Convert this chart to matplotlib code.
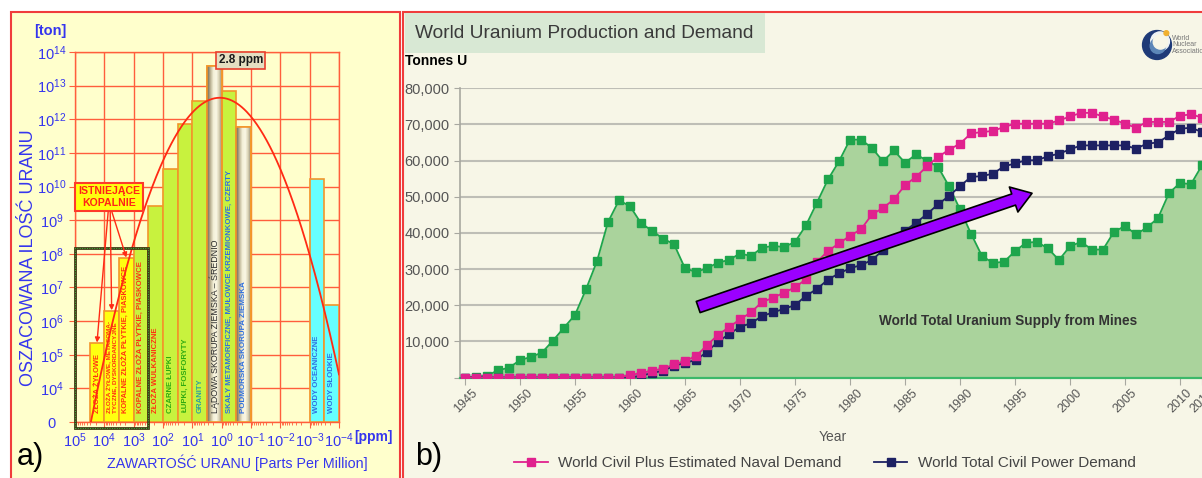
import numpy as np
import matplotlib
matplotlib.use('Agg')
import matplotlib.pyplot as plt
from matplotlib.patches import Rectangle, FancyArrowPatch, Circle, ArrowStyle
from matplotlib.colors import LinearSegmentedColormap
from matplotlib.lines import Line2D
from matplotlib.ticker import FixedLocator, LogLocator, NullFormatter
from matplotlib.transforms import ScaledTranslation

plt.rcParams['font.family'] = ['Liberation Sans', 'DejaVu Sans']
plt.rcParams['mathtext.fontset'] = 'custom'
plt.rcParams['mathtext.rm'] = 'Liberation Sans'
plt.rcParams['mathtext.it'] = 'Liberation Sans:italic'
plt.rcParams['mathtext.bf'] = 'Liberation Sans:bold'

# ---------------- panel a data ----------------
deposit_labels = [
    'ZŁOŻA ŻYŁOWE',
    'ZŁOŻA ŻYŁOWE, METASOMA-\nTYCZNE, DYSKORDANCYJNE',
    'KOPALNE ZŁOŻA PŁYTKIE, PIASKOWCE',
    'KOPALNE ZŁOŻA PŁYTKIE, PIASKOWCE',
    'ZŁOŻA WULKANICZNE',
    'CZARNE ŁUPKI',
    'ŁUPKI, FOSFORYTY',
    'GRANITY',
    'LĄDOWA SKORUPA ZIEMSKA – ŚREDNIO',
    'SKAŁY METAMORFICZNE, MUŁOWCE KRZEMIONKOWE, CZERTY',
    'PODMORSKA SKORUPA ZIEMSKA',
    'WODY OCEANICZNE',
    'WODY SŁODKIE',
]
conc_hi_ppm = [3.16e4, 1e4, 3.16e3, 1e3, 316, 100, 31.6, 10, 3.16, 1, 0.316, 1e-3, 3.16e-4]
uranium_tonnes = [2.2e5, 2.0e6, 7.4e7, 1.45e8, 2.7e9, 3.3e10, 7.4e11, 3.4e12, 3.9e13,
                  6.8e12, 5.9e11, 1.7e10, 3.1e6]
curve_ppm = [2.9e4, 1e3, 10, 1, 1e-2, 1e-4]
curve_tonnes = [1e3, 2.1e8, 1.5e12, 4.4e12, 3.6e10, 2.5e4]
y_exponents = [3, 4, 5, 6, 7, 8, 9, 10, 11, 12, 13, 14]
x_exponents = [5, 4, 3, 2, 1, 0, -1, -2, -3, -4]

# ---------------- panel b data ----------------
years = list(range(1945, 2013))
mine_supply = [0, 200, 500, 2000, 2700, 4800, 5700, 6900, 10200, 13800, 17300, 24400, 32200,
               43000, 49000, 47400, 42700, 40600, 38400, 36900, 30200, 29200, 30200, 31800,
               32500, 34300, 33600, 35900, 36400, 36100, 37500, 42100, 48400, 54800, 59800,
               65800, 65800, 63500, 59800, 62800, 59400, 61700, 60000, 58300, 52900, 46500,
               39800, 33600, 31700, 32000, 34900, 37300, 37500, 35700, 32500, 36300, 37500,
               35400, 35400, 40300, 41900, 39600, 41500, 44100, 51000, 53800, 53500, 58700]
naval_demand = [0] * 15 + [700, 1200, 1900, 2400, 3600, 4600, 5900, 8900, 11800, 13900, 16100,
               18000, 20900, 22000, 23500, 24900, 27200, 32000, 35000, 37100, 39200, 41000,
               45100, 46900, 49300, 53200, 55500, 58400, 61000, 63000, 64700, 67500, 67900,
               68200, 69300, 70200, 70200, 70200, 70200, 71100, 72200, 73200, 73200, 72200,
               71300, 70200, 69100, 70700, 70700, 70700, 72400, 72800, 71900]
civil_demand = [0] * 16 + [500, 1200, 1900, 3200, 4100, 4800, 7100, 9900, 12000, 14000, 15000,
               17000, 18000, 19000, 20000, 22600, 24500, 27100, 28800, 30200, 31100, 32500,
               35200, 38000, 40600, 42800, 45200, 47900, 50200, 52900, 55500, 55700, 56400,
               58400, 59200, 60100, 60100, 61200, 61900, 63100, 64200, 64200, 64200, 64200,
               64200, 63300, 64700, 65000, 67000, 68800, 69100, 67900]
year_ticks = [1945, 1950, 1955, 1960, 1965, 1970, 1975, 1980, 1985, 1990, 1995, 2000, 2005, 2010, 2012]
tonne_ticks = [0, 10000, 20000, 30000, 40000, 50000, 60000, 70000, 80000]
series_names = ['World Civil Plus Estimated Naval Demand', 'World Total Civil Power Demand']

# ---------------- styles ----------------
W, H = 1202, 478
fig = plt.figure(figsize=(W / 100, H / 100), dpi=100)
fig.patch.set_facecolor('white')


def fx(x):
    return x / W


def fy(y):
    return 1 - y / H


BLUE = '#3535EE'
GRID = '#FF5E3C'
bar_colors = ['#FFFF10'] * 3 + ['#C8F23E'] * 5 + ['#E8E2C4', '#C8F23E', '#E8E2C4'] + ['#66FFFF'] * 2
label_colors = ['#FF3010'] * 5 + ['#2EAA10', '#2EAA10', '#2E9EA0', '#2A2A2A'] + ['#2F6FE0'] * 4
label_sizes = [5.4, 4.6, 5.4, 5.6, 5.6, 5.6, 5.6, 5.6, 6.4, 5.6, 5.8, 5.6, 5.6]
label_weights = ['bold'] * 8 + ['normal'] + ['bold'] * 4
shaded = [8, 10]

# panel backgrounds / borders
fig.add_artist(Rectangle((fx(11), -0.02), fx(400) - fx(11), fy(12) + 0.02, transform=fig.transFigure,
                         facecolor='#FFFFCC', edgecolor='#F03C3C', lw=1.5, zorder=-2))
fig.add_artist(Rectangle((fx(403), -0.02), 1.0, fy(12) + 0.02, transform=fig.transFigure,
                         facecolor='#F7F6E7', edgecolor='#F03C3C', lw=1.5, zorder=-2))

# ================= panel a =================
axa = fig.add_axes([fx(75), fy(422), (339 - 75) / W, (422 - 52) / H])
axa.set_facecolor('none')
axa.set_yscale('log')

u_left = -np.log10(np.array(conc_hi_ppm))
tonnes = np.array(uranium_tonnes)
bars = axa.bar(u_left, tonnes - 1e3, width=0.5, bottom=1e3, align='edge', color=bar_colors,
               edgecolor='#F2962A', lw=1.2, zorder=3)

cyl = LinearSegmentedColormap.from_list('cyl', ['#756d58', '#bdb495', '#f3efd6', '#faf7e4',
                                                '#d9d2b4', '#8f8670'])
for i in shaded:
    b = bars[i]
    im = axa.imshow(np.linspace(0, 1, 64)[None, :], cmap=cyl, aspect='auto', interpolation='bilinear',
                    extent=(u_left[i], u_left[i] + 0.5, 1e3, tonnes[i]), zorder=3.1)
    im.set_clip_path(b)
    axa.bar(u_left[i], tonnes[i] - 1e3, width=0.5, bottom=1e3, align='edge', facecolor='none',
            edgecolor='#F2962A', lw=1.2, zorder=3.2)

for i, lab in enumerate(deposit_labels):
    axa.text(u_left[i] + 0.25, 1.8e3, lab, rotation=90, ha='center', va='bottom',
             fontsize=label_sizes[i], color=label_colors[i], fontweight=label_weights[i],
             zorder=5, linespacing=0.95)

# fitted distribution curve through points
cu = -np.log10(np.array(curve_ppm))
cl = np.log10(np.array(curve_tonnes))
coef = np.polyfit(cu, cl, 2)
uu = np.linspace(cu[0], cu[-1], 300)
axa.plot(uu, 10 ** np.polyval(coef, uu), color='#FF2A14', lw=1.3, zorder=6)

axa.set_xlim(-5, 4)
axa.set_ylim(1e3, 1e14)

# axes styling
axa.set_yticks([10.0 ** e for e in y_exponents])
axa.set_yticklabels(['0' if e == 3 else r'$\mathregular{10^{%d}}$' % e for e in y_exponents])
axa.set_xticks([-e for e in x_exponents])
axa.set_xticklabels([r'$\mathregular{10^{%d}}$' % e for e in x_exponents])
axa.yaxis.set_minor_locator(LogLocator(base=10, subs=np.arange(2, 10)))
axa.yaxis.set_minor_formatter(NullFormatter())
xminor = [-(n + np.log10(k)) for n in range(-4, 5) for k in range(2, 10)]
axa.xaxis.set_minor_locator(FixedLocator([v for v in xminor if -5 < v < 4]))
axa.grid(True, which='major', color=GRID, lw=1.0, zorder=0)
axa.set_axisbelow(True)
for s in axa.spines.values():
    s.set_color(GRID)
    s.set_linewidth(1.0)
axa.tick_params(axis='both', which='major', color=GRID, length=4, labelsize=10.5, labelcolor=BLUE)
axa.tick_params(axis='both', which='minor', color=GRID, length=2.5)
axa.tick_params(axis='y', which='major', pad=13)
axa.tick_params(axis='x', which='major', pad=3)
for t in axa.get_yticklabels():
    t.set_ha('center')

# box around existing mines
x_box_r = u_left[3] + 0.5
y_box_b = 10 ** 2.82
y_box_t = tonnes[:4].max()
axa.add_patch(Rectangle((-5, y_box_b), x_box_r + 5, y_box_t - y_box_b, fill=False,
                        edgecolor='#3E3816', lw=2.0, clip_on=False, zorder=7))
axa.add_patch(Rectangle((-5, y_box_b), x_box_r + 5, y_box_t - y_box_b, fill=False,
                        edgecolor='#3DBF3D', lw=0.7, ls=(0, (1, 1.5)), clip_on=False, zorder=7.1))

# label + arrows
axa.text(-3.84, 10 ** 9.69, 'ISTNIEJĄCE\nKOPALNIE', ha='center', va='center', fontsize=7.6,
         fontweight='bold', color='#FF2418', linespacing=1.35, zorder=8,
         bbox=dict(boxstyle='square,pad=0.28', fc='#FFFF10', ec='#FF3A2A', lw=1.5))
starts = [-3.87, -3.80, -3.74]
for k, sx in enumerate(starts):
    axa.annotate('', xy=(u_left[k] + 0.25, tonnes[k] * 1.05), xytext=(sx, 10 ** 9.24),
                 arrowprops=dict(arrowstyle='-|>', color='#FF2A14', lw=1.0, mutation_scale=7,
                                 shrinkA=0, shrinkB=0), zorder=8)

axa.annotate('2.8 ppm', xy=(u_left[8] + 0.25, tonnes[8]), xytext=(19, 4), textcoords='offset points',
             ha='center', va='center', fontsize=8.5, fontweight='bold', color='#1A1A1A', zorder=9,
             bbox=dict(boxstyle='square,pad=0.2', fc='#E4DFC2', ec='#E8402E', lw=1.2),
             annotation_clip=False)

fig.text(fx(50), fy(31), '[ton]', color=BLUE, fontsize=10.5, fontweight='bold', ha='center', va='center')
fig.text(fx(29), fy(258), 'OSZACOWANA ILOŚĆ URANU', color=BLUE, fontsize=13, rotation=90,
         ha='center', va='center')
fig.text(fx(237), fy(463), 'ZAWARTOŚĆ URANU [Parts Per Million]', color=BLUE, fontsize=10.3,
         ha='center', va='center')
fig.text(fx(354), fy(437), '[ppm]', color=BLUE, fontsize=10, fontweight='bold', ha='left', va='center')
fig.text(fx(17), fy(457), 'a)', color='black', fontsize=22, ha='left', va='center')

# ================= panel b =================
fig.add_artist(Rectangle((fx(405), fy(52.7)), (765 - 405) / W, (52.7 - 13) / H, transform=fig.transFigure,
                         facecolor='#D8E8D4', edgecolor='none', zorder=-1))
fig.text(fx(415), fy(33), 'World Uranium Production and Demand', fontsize=13.8, color='#3A3A3A',
         ha='left', va='center')
fig.text(fx(405), fy(61), 'Tonnes U', fontsize=10, fontweight='bold', color='black', ha='left', va='center')

axb = fig.add_axes([fx(459.5), fy(377.5), (1202 - 459.5) / W, (377.5 - 88.3) / H])
axb.set_facecolor('none')
axb.fill_between(years, mine_supply, 0, color='#AAD39C', lw=0, zorder=1)
axb.plot(years, mine_supply, '-s', color='#1EA54C', ms=5.5, lw=1.3, zorder=2)
l_civil, = axb.plot(years, civil_demand, '-s', color='#1D2163', ms=5.5, lw=1.3, zorder=3)
l_naval, = axb.plot(years, naval_demand, '-s', color='#E0218E', ms=5.5, lw=1.3, zorder=4)
axb.set_xlim(1945 - 5.5 / 11, 2012)
axb.set_ylim(0, 80000)
axb.set_xticks(year_ticks)
axb.set_xticklabels([str(y) for y in year_ticks])
axb.set_yticks(tonne_ticks)
axb.set_yticklabels(['' if v == 0 else f'{v:,}' for v in tonne_ticks])
axb.grid(True, axis='y', color='#BEBEB6', lw=1.5)
axb.set_axisbelow(True)
for s in ['top', 'right']:
    axb.spines[s].set_visible(False)
axb.spines['left'].set_color('#A8A8A0')
axb.spines['left'].set_linewidth(1.2)
axb.spines['bottom'].set_color('#3CB86A')
axb.spines['bottom'].set_linewidth(1.6)
axb.tick_params(axis='y', length=4, color='#A8A8A0', labelsize=10.5, labelcolor='#555555', pad=3)
axb.tick_params(axis='x', length=5, color='#A8A8A0', labelsize=9, labelcolor='#555555', pad=2)
off = ScaledTranslation(6 / 100, 0, fig.dpi_scale_trans)
for t in axb.get_xticklabels():
    t.set_rotation(45)
    t.set_ha('right')
    t.set_va('top')
    t.set_rotation_mode('anchor')
    t.set_transform(t.get_transform() + off)

axb.add_patch(FancyArrowPatch((1966.2, 19500), (1996.55, 50970),
                              arrowstyle=ArrowStyle.Simple(head_length=14, head_width=19, tail_width=8.5),
                              mutation_scale=1, shrinkA=0, shrinkB=0, fc='#9B00FF', ec='black',
                              lw=1.2, zorder=6))
axb.text(1994.4, 15600, 'World Total Uranium Supply from Mines', fontsize=9.8, fontweight='bold',
         color='#333333', ha='center', va='center', zorder=7)

fig.text(fx(833), fy(437), 'Year', fontsize=10, color='#555555', ha='center', va='center')
fig.text(fx(415), fy(457), 'b)', color='black', fontsize=22, ha='left', va='center')

fig.legend([l_naval, l_civil], series_names, loc='center', bbox_to_anchor=(fx(825), fy(463)),
           ncol=2, frameon=False, fontsize=11, handlelength=2.2, columnspacing=2.1,
           handletextpad=0.7, numpoints=1, labelcolor='#444444')

# logo
axl = fig.add_axes([fx(1140), fy(62), 34 / W, 34 / H])
axl.set_xlim(-1, 1)
axl.set_ylim(-1, 1)
axl.set_aspect('equal')
axl.axis('off')
axl.add_patch(Circle((0, 0), 0.85, color='#1E3A78'))
axl.add_patch(Circle((0.18, 0.22), 0.55, color='#EEF3F5'))
axl.add_patch(Circle((0.05, -0.05), 0.45, color='#5C86B8'))
axl.add_patch(Circle((0.2, 0.18), 0.42, color='#F7F6E7'))
axl.add_patch(Circle((0.55, 0.7), 0.14, color='#F0B030'))
fig.text(fx(1172), fy(45), 'World\nNuclear\nAssociation', fontsize=5, color='#777777',
         ha='left', va='center', linespacing=0.95)

fig.savefig('out.png', dpi=100)
